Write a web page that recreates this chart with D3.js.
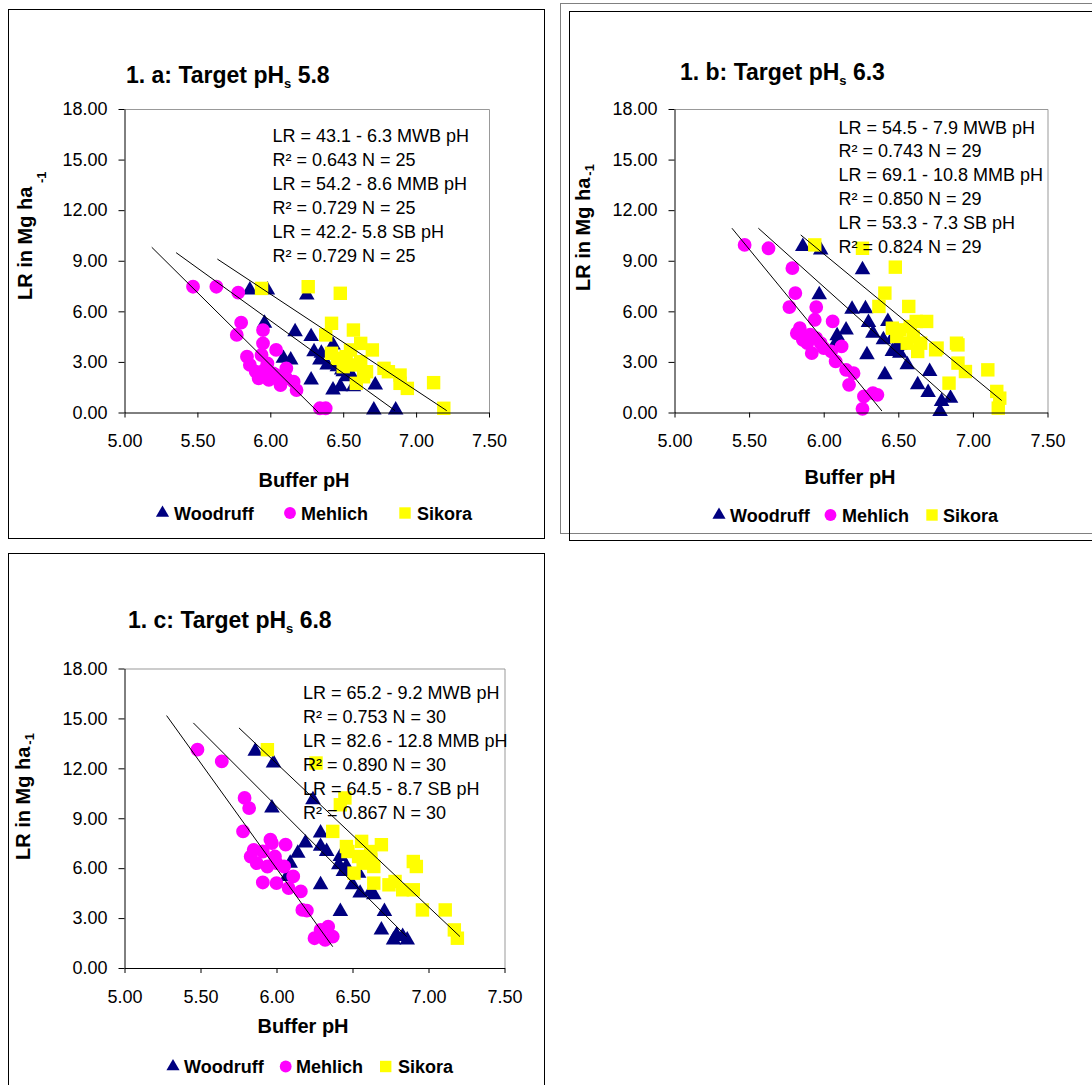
<!DOCTYPE html>
<html><head><meta charset="utf-8">
<script src="https://cdn.jsdelivr.net/npm/d3@7"></script>
<style>body{margin:0;background:#fff} svg{display:block} text{font-family:"Liberation Sans",Arial,sans-serif;fill:#000}</style>
</head><body><svg id="c" width="1092" height="1085"></svg>
<script>
// ---------- data ----------
const categories = ["Woodruff", "Mehlich", "Sikora"];
const xTickValues = [5.0, 5.5, 6.0, 6.5, 7.0, 7.5];
const yTickValues = [0, 3, 6, 9, 12, 15, 18];
const panelTitles = ["1. a: Target pH", "1. b: Target pH", "1. c: Target pH"];
const targetPH = ["5.8", "6.3", "6.8"];
const yAxisTitle = "LR in Mg ha";
const yAxisUnitExp = "-1";
const xAxisTitle = "Buffer pH";

const equationsA = ["LR = 43.1 - 6.3 MWB pH", "R² = 0.643 N = 25", "LR = 54.2 - 8.6 MMB pH", "R² = 0.729 N = 25", "LR = 42.2- 5.8 SB pH", "R² = 0.729 N = 25"];
const equationsB = ["LR = 54.5 - 7.9 MWB pH", "R² = 0.743 N = 29", "LR = 69.1 - 10.8 MMB pH", "R² = 0.850 N = 29", "LR = 53.3 - 7.3 SB pH", "R² = 0.824 N = 29"];
const equationsC = ["LR = 65.2 - 9.2 MWB pH", "R² = 0.753 N = 30", "LR = 82.6 - 12.8 MMB pH", "R² = 0.890 N = 30", "LR = 64.5 - 8.7 SB pH", "R² = 0.867 N = 30"];

// [buffer pH, LR]
const woodruffA = [[5.86,7.26],[5.98,7.26],[6.25,6.97],[5.96,5.29],[6.17,4.79],[6.28,4.50],[6.30,3.61],[6.43,4.00],[6.34,3.11],[6.09,3.21],[6.14,3.11],[6.46,2.72],[6.50,2.42],[6.55,2.32],[6.28,1.93],[6.43,1.33],[6.48,1.53],[6.57,1.53],[6.72,1.63],[6.71,0.15],[6.86,0.15],[6.39,2.82],[6.52,2.12],[6.35,3.51],[6.49,2.52]];
const mehlichA = [[5.47,7.46],[5.63,7.46],[5.78,7.11],[5.80,5.33],[5.77,4.60],[5.95,4.89],[5.95,4.10],[6.04,3.71],[5.84,3.31],[5.86,2.82],[5.94,3.41],[5.98,2.91],[6.11,2.62],[5.92,2.03],[5.99,1.93],[6.07,1.63],[6.16,1.83],[6.18,1.33],[6.11,2.03],[6.02,2.32],[6.34,0.25],[6.38,0.25],[5.90,2.42],[5.96,2.52],[6.04,2.22]];
const sikoraA = [[5.94,7.36],[6.26,7.46],[6.48,7.07],[6.42,5.29],[6.57,4.89],[6.38,4.60],[6.62,4.10],[6.70,3.71],[6.46,3.21],[6.52,3.31],[6.57,2.82],[6.62,3.01],[6.78,2.62],[6.89,2.22],[6.94,1.43],[6.89,1.73],[7.12,1.77],[7.19,0.25],[6.59,1.73],[6.64,2.12],[6.50,2.72],[6.66,2.42],[6.81,2.42],[6.55,3.71],[6.42,3.51]];
// trendlines [pH start, LR start, pH end, LR end] in order Woodruff, Mehlich, Sikora
const trendsA = [[5.354,9.48,6.856,0.11],[5.187,9.80,6.33,0.0],[5.637,9.10,7.21,0.11]];

const woodruffB = [[5.86,9.84],[5.98,9.64],[6.26,8.46],[5.97,6.98],[6.19,6.13],[6.28,6.15],[6.15,4.90],[6.09,4.55],[6.30,5.34],[6.43,5.40],[6.33,4.70],[6.40,4.31],[6.46,4.41],[6.51,4.01],[6.46,3.62],[6.29,3.42],[6.56,2.83],[6.41,2.24],[6.71,2.43],[6.63,1.64],[6.70,1.19],[6.79,0.65],[6.85,0.85],[6.78,0.06],[6.49,3.92],[6.08,4.11],[6.51,3.52]];
const mehlichB = [[5.47,9.94],[5.63,9.74],[5.79,8.56],[5.81,7.08],[5.77,6.25],[5.95,6.25],[5.94,5.50],[6.06,5.40],[5.84,5.00],[5.86,4.31],[5.91,4.61],[5.95,4.41],[5.92,3.52],[6.00,3.82],[5.98,4.11],[6.08,3.03],[6.12,3.92],[6.15,2.53],[6.20,2.33],[6.17,1.64],[6.27,0.95],[6.33,1.15],[6.36,1.05],[6.26,0.22],[5.89,4.11],[6.05,3.62],[5.82,4.70]];
const sikoraB = [[5.94,9.94],[6.26,9.74],[6.48,8.62],[6.41,7.08],[6.37,6.29],[6.57,6.29],[6.46,5.00],[6.51,4.90],[6.62,5.40],[6.69,5.40],[6.60,4.51],[6.65,4.11],[6.76,3.82],[6.63,3.62],[6.89,4.11],[6.90,2.93],[6.95,2.43],[6.84,1.74],[7.10,2.53],[7.16,1.25],[7.18,0.85],[7.17,0.26],[6.56,4.11],[6.49,4.51],[6.58,5.10],[6.90,4.01],[6.75,3.72]];
const trendsB = [[5.562,10.93,6.851,0.71],[5.385,10.93,6.39,0.09],[5.846,10.53,7.193,0.71]];

const woodruffC = [[5.86,13.03],[5.98,12.32],[6.24,10.11],[5.97,9.61],[6.29,8.11],[6.19,7.51],[6.14,6.90],[6.29,7.31],[6.33,7.00],[6.09,6.30],[6.42,6.70],[6.41,6.20],[6.46,6.10],[6.44,5.80],[6.50,5.00],[6.55,4.50],[6.64,4.40],[6.29,5.00],[6.42,3.39],[6.71,3.39],[6.69,2.29],[6.79,1.99],[6.77,1.69],[6.83,1.89],[6.86,1.69],[6.54,5.70],[6.07,5.50],[6.62,4.60]];
const mehlichC = [[5.48,13.12],[5.64,12.42],[5.79,10.22],[5.82,9.61],[5.78,8.21],[5.96,7.71],[6.06,7.41],[5.85,7.10],[5.91,7.00],[5.99,6.70],[5.87,6.30],[5.94,6.10],[6.00,6.30],[6.11,5.50],[5.91,5.14],[6.00,5.10],[6.08,4.80],[6.16,4.60],[6.17,3.49],[6.20,3.45],[6.29,2.29],[6.34,2.49],[6.25,1.79],[6.32,1.69],[6.37,1.89],[5.83,6.70],[5.97,7.51],[6.05,6.10]];
const sikoraC = [[5.94,13.12],[6.26,12.32],[6.45,10.22],[6.42,9.81],[6.37,8.21],[6.56,7.61],[6.69,7.41],[6.47,7.00],[6.54,6.70],[6.62,6.50],[6.64,6.10],[6.90,6.40],[6.92,6.10],[6.64,5.10],[6.78,5.20],[6.83,4.70],[6.90,4.70],[6.96,3.49],[7.11,3.49],[7.17,2.29],[7.19,1.79],[6.57,6.30],[6.51,5.70],[6.74,5.00],[6.46,7.30],[6.62,7.00]];
const trendsC = [[5.453,14.73,6.856,1.89],[5.277,15.17,6.37,1.28],[5.753,14.43,7.207,1.89]];

// ---------- styles ----------
const colors = ["#000080", "#FF00FF", "#FFFF00"];
const symbols = [d3.symbolTriangle, d3.symbolCircle, d3.symbolSquare];
const markerSizes = [105, 150, 180];
const legendSizes = [75, 110, 130];

const svg = d3.select("#c");

// panel frames
svg.append("rect").attr("x", 8.5).attr("y", 9.5).attr("width", 536).attr("height", 529).attr("fill", "none").attr("stroke", "#000");
svg.append("rect").attr("x", 560.5).attr("y", 3.5).attr("width", 560).attr("height", 530).attr("fill", "none").attr("stroke", "#808080");
svg.append("rect").attr("x", 569.5).attr("y", 11.5).attr("width", 560).attr("height", 529).attr("fill", "none").attr("stroke", "#000");
svg.append("rect").attr("x", 8.5).attr("y", 553.5).attr("width", 536).attr("height", 560).attr("fill", "none").attr("stroke", "#000");

const panels = [
  {title: panelTitles[0], target: targetPH[0], eq: equationsA, series: [woodruffA, mehlichA, sikoraA], trends: trendsA,
   plot: {x0: 124.5, x1: 489, y0: 109, y1: 412.5}, titlePos: [126, 83], eqPos: [272.5, 141.5, 24],
   yTitle: {x: 32, y: 300, sepExp: true}, xTitlePos: [304, 487], legend: {y: 513, m: [162.5, 290, 405], t: [174, 301, 417]}},
  {title: panelTitles[1], target: targetPH[1], eq: equationsB, series: [woodruffB, mehlichB, sikoraB], trends: trendsB,
   plot: {x0: 674.5, x1: 1047.5, y0: 109, y1: 412.5}, titlePos: [680, 80], eqPos: [838.5, 133.5, 23.8],
   yTitle: {x: 590, y: 291, sepExp: false}, xTitlePos: [850, 484], legend: {y: 515, m: [719, 830.5, 932], t: [730, 842, 943]}},
  {title: panelTitles[2], target: targetPH[2], eq: equationsC, series: [woodruffC, mehlichC, sikoraC], trends: trendsC,
   plot: {x0: 124.5, x1: 504.5, y0: 668.5, y1: 968}, titlePos: [128, 628], eqPos: [303, 699, 24],
   yTitle: {x: 30, y: 860, sepExp: false}, xTitlePos: [303, 1033], legend: {y: 1066.5, m: [173, 285.7, 385.7], t: [184, 296, 398]}}
];

panels.forEach(p => {
  const g = svg.append("g");
  const x = d3.scaleLinear().domain([xTickValues[0], xTickValues[xTickValues.length - 1]]).range([p.plot.x0, p.plot.x1]);
  const y = d3.scaleLinear().domain([yTickValues[0], yTickValues[yTickValues.length - 1]]).range([p.plot.y1, p.plot.y0]);

  // plot area top/right border
  g.append("path").attr("d", `M${p.plot.x0},${p.plot.y0 + 0.5}H${p.plot.x1 + 0.5}V${p.plot.y1}`)
    .attr("fill", "none").attr("stroke", "#999");

  // markers
  p.series.forEach((pts, i) => {
    g.append("g").selectAll("path").data(pts).join("path")
      .attr("transform", d => `translate(${x(d[0])},${y(d[1])})`)
      .attr("d", d3.symbol(symbols[i], markerSizes[i]))
      .attr("fill", colors[i]);
  });

  // trendlines
  g.append("g").selectAll("line").data(p.trends).join("line")
    .attr("x1", d => x(d[0])).attr("y1", d => y(d[1]))
    .attr("x2", d => x(d[2])).attr("y2", d => y(d[3]))
    .attr("stroke", "#000").attr("stroke-width", 1);

  // axes
  const ya = g.append("g").attr("transform", `translate(${p.plot.x0},0)`)
    .call(d3.axisLeft(y).tickValues(yTickValues).tickFormat(d3.format(".2f")).tickSize(6).tickSizeOuter(0).tickPadding(11));
  const xa = g.append("g").attr("transform", `translate(0,${p.plot.y1})`)
    .call(d3.axisBottom(x).tickValues(xTickValues).tickFormat(d3.format(".2f")).tickSize(5).tickSizeOuter(0).tickPadding(17));
  [ya, xa].forEach(a => {
    a.selectAll("text").attr("font-size", 18).attr("font-family", "Liberation Sans, Arial, sans-serif").attr("fill", "#000");
    a.selectAll("line").attr("stroke", "#000");
    a.select(".domain").attr("stroke", "#000");
  });

  // equations
  g.append("g").selectAll("text").data(p.eq).join("text")
    .attr("x", p.eqPos[0]).attr("y", (d, i) => p.eqPos[1] + i * p.eqPos[2])
    .attr("font-size", 18).text(d => d);

  // title
  const t = g.append("text").attr("x", p.titlePos[0]).attr("y", p.titlePos[1]).attr("font-size", 23).attr("font-weight", "bold");
  t.append("tspan").text(p.title);
  t.append("tspan").attr("font-size", 13).attr("dx", 0).attr("dy", 5).text("s");
  t.append("tspan").attr("dy", -5).text(" " + p.target);

  // x title
  g.append("text").attr("x", p.xTitlePos[0]).attr("y", p.xTitlePos[1]).attr("text-anchor", "middle")
    .attr("font-size", 20).attr("font-weight", "bold").text(xAxisTitle);

  // y title
  const yt = g.append("text").attr("transform", `translate(${p.yTitle.x},${p.yTitle.y}) rotate(-90)`)
    .attr("font-size", 20).attr("font-weight", "bold");
  yt.append("tspan").text(yAxisTitle);
  if (p.yTitle.sepExp) {
    g.append("text").attr("transform", `translate(${p.yTitle.x + 14},${p.yTitle.y - 117}) rotate(-90)`)
      .attr("font-size", 13).attr("font-weight", "bold").text(yAxisUnitExp);
  } else {
    yt.append("tspan").attr("font-size", 13).attr("dx", 2).attr("dy", 4).text(yAxisUnitExp);
  }

  // legend
  const lg = g.append("g");
  categories.forEach((c, i) => {
    lg.append("path").attr("transform", `translate(${p.legend.m[i]},${p.legend.y})`)
      .attr("d", d3.symbol(symbols[i], legendSizes[i])).attr("fill", colors[i]);
    lg.append("text").attr("x", p.legend.t[i]).attr("y", p.legend.y + 6.5)
      .attr("font-size", 18).attr("font-weight", "bold").text(c);
  });
});
</script></body></html>
